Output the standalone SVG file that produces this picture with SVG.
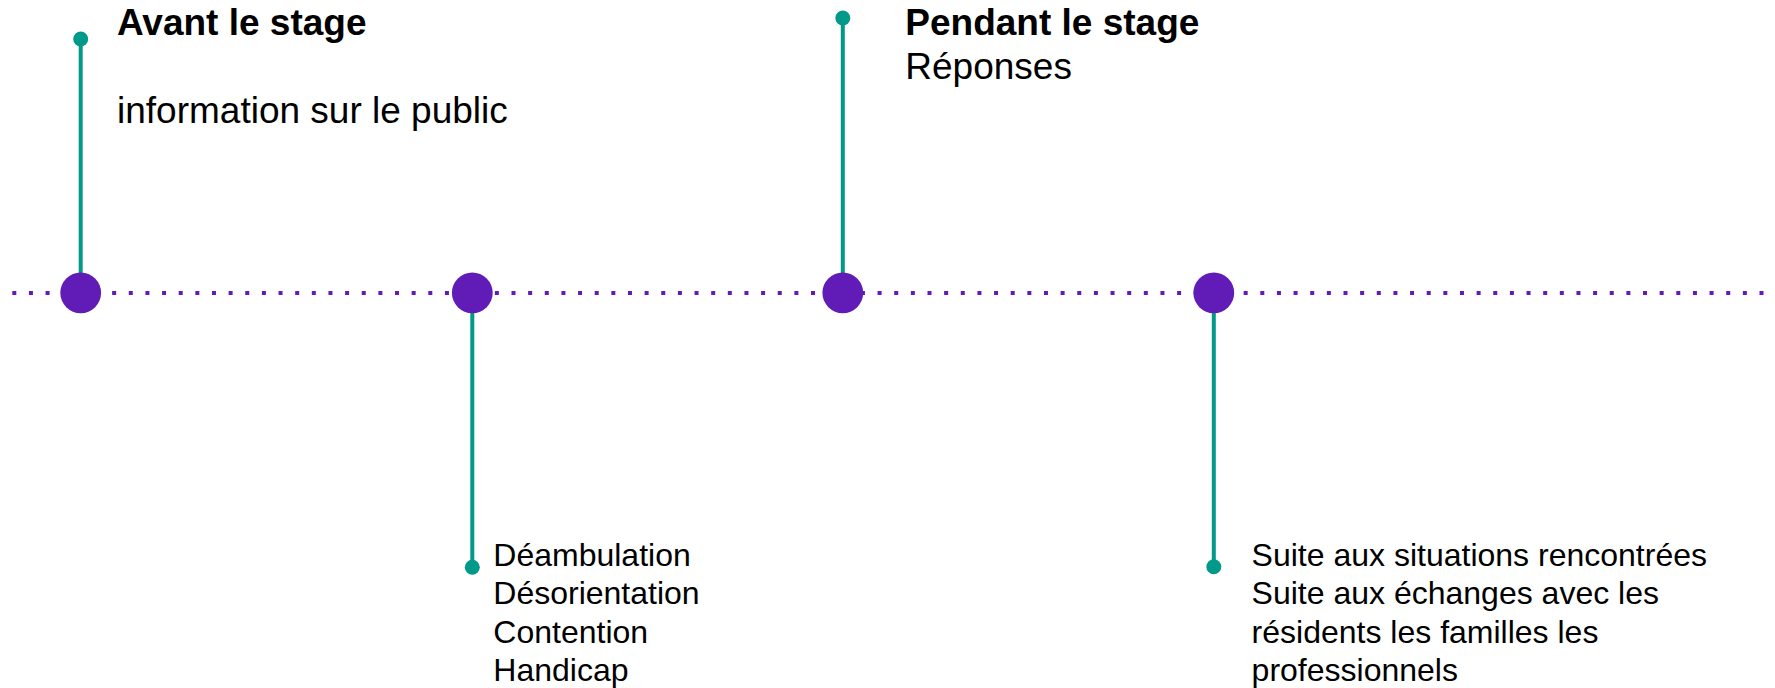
<svg xmlns="http://www.w3.org/2000/svg" width="1775" height="688" viewBox="0 0 1775 688">
  <style>
    .axis { stroke: #611CB8; stroke-width: 4; stroke-dasharray: 4 12.64; fill: none; }
    .stem { stroke: #00998A; stroke-width: 4; fill: none; }
    .tip { fill: #00998A; }
    .hub { fill: #611CB8; }
    .t { font-family: "Liberation Sans", Arial, sans-serif; fill: #000; }
    .h { font-size: 37px; font-weight: bold; }
    .b { font-size: 37px; }
    .s { font-size: 32px; }
  </style>
  <rect width="1775" height="688" fill="#ffffff"/>
  <g id="connectors">
    <line class="axis" x1="12.3" y1="293" x2="1764" y2="293"/>
    <line class="stem" x1="80.7" y1="39" x2="80.7" y2="293"/>
    <line class="stem" x1="472.3" y1="293" x2="472.3" y2="567"/>
    <line class="stem" x1="842.8" y1="18" x2="842.8" y2="293"/>
    <line class="stem" x1="1213.8" y1="293" x2="1213.8" y2="567"/>
  </g>
  <g id="node-avant">
    <circle class="tip" cx="80.7" cy="39" r="7.5"/>
    <circle class="hub" cx="80.7" cy="292.8" r="20.4"/>
    <text class="t h" x="117" y="35">Avant le stage</text>
    <text class="t b" x="117" y="122.7">information sur le public</text>
  </g>
  <g id="node-deambulation">
    <circle class="hub" cx="472.3" cy="292.8" r="20.4"/>
    <circle class="tip" cx="472.3" cy="567.3" r="7.5"/>
    <text class="t s" x="493.3" y="566">Déambulation</text>
    <text class="t s" x="493.3" y="604.4">Désorientation</text>
    <text class="t s" x="493.3" y="642.8">Contention</text>
    <text class="t s" x="493.3" y="681.2">Handicap</text>
  </g>
  <g id="node-pendant">
    <circle class="tip" cx="842.8" cy="18" r="7.5"/>
    <circle class="hub" cx="842.8" cy="292.8" r="20.4"/>
    <text class="t h" x="905.3" y="35">Pendant le stage</text>
    <text class="t b" x="905.3" y="79.3">Réponses</text>
  </g>
  <g id="node-suite">
    <circle class="hub" cx="1213.8" cy="292.8" r="20.4"/>
    <circle class="tip" cx="1213.8" cy="566.8" r="7.5"/>
    <text class="t s" x="1251.6" y="566">Suite aux situations rencontrées</text>
    <text class="t s" x="1251.6" y="604.4">Suite aux échanges avec les</text>
    <text class="t s" x="1251.6" y="642.8">résidents les familles les</text>
    <text class="t s" x="1251.6" y="681.2">professionnels</text>
  </g>
</svg>
